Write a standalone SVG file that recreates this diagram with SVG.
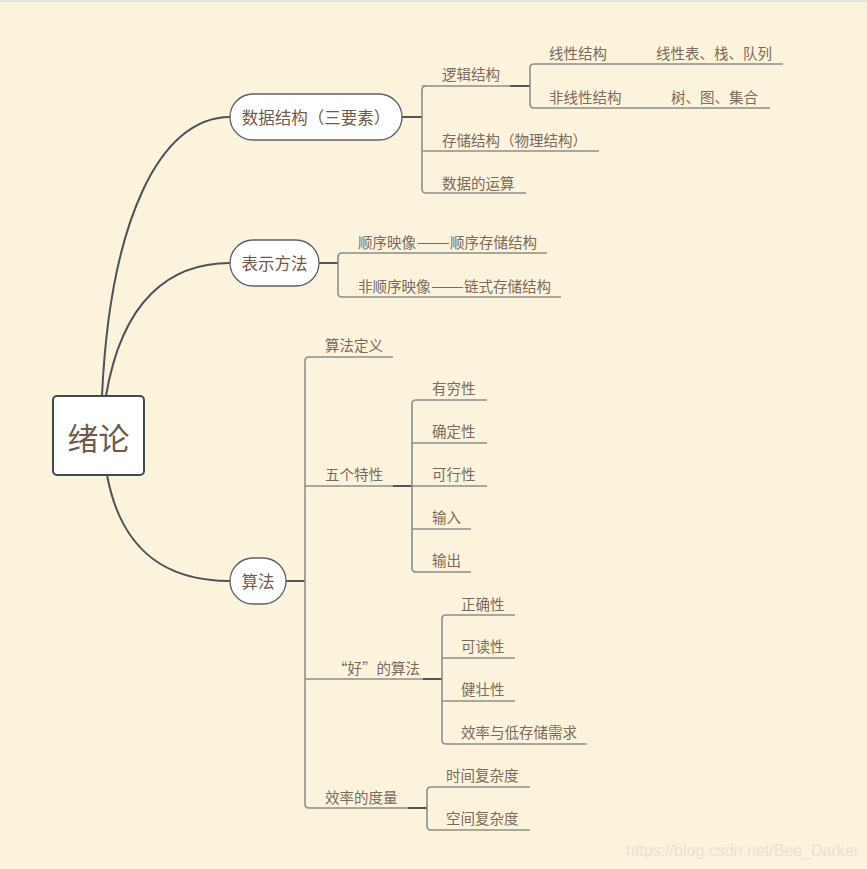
<svg xmlns="http://www.w3.org/2000/svg" width="867" height="869" viewBox="0 0 867 869">
<style>
.bg{fill:#fbf3dc}
.curve{fill:none;stroke:#4b5359;stroke-width:2}
.ln{fill:none;stroke:#8c8e87;stroke-width:1.6}
.stub{fill:none;stroke:#4f575d;stroke-width:2}
.node{fill:#ffffff;stroke:#59626a;stroke-width:1.3}
.root{fill:#ffffff;stroke:#3f4a52;stroke-width:2}
.nt{font-family:"Noto Sans CJK SC","Noto Sans",sans-serif;font-size:16.5px;fill:#6f5b4b;text-anchor:middle;dominant-baseline:central}
.rt{font-family:"Noto Sans CJK SC","Noto Sans",sans-serif;font-size:31px;fill:#6f5b4b;text-anchor:middle;dominant-baseline:central}
.t{font-family:"Noto Sans CJK SC","Noto Sans",sans-serif;font-size:14.5px;fill:#7a6a5b;dominant-baseline:central}
.wm{font-family:"Liberation Sans",Arial,sans-serif;font-size:16px;fill:#e9e1d2}
</style>
<rect class="bg" x="0" y="0" width="867" height="869"/>
<rect x="0" y="0" width="867" height="2" fill="#e4e2dc"/>
<g id="connectors">
<path class="curve" d="M102,396 C110,220 160,117 230,117"/>
<path class="curve" d="M106,396 C122,300 170,263 230,263"/>
<path class="curve" d="M107,475 C122,555 170,581 230,581"/>
<path class="stub" d="M402,117 H422"/>
<path class="ln" d="M426,86 Q422,86 422,90 V189 Q422,193 426,193"/>
<path class="ln" d="M422,86 H510"/>
<path class="stub" d="M510,86 H530"/>
<path class="ln" d="M422,151 H599"/>
<path class="ln" d="M426,193 H526"/>
<path class="ln" d="M534,64 Q530,64 530,68 V104 Q530,108 534,108"/>
<path class="ln" d="M534,64 H783"/>
<path class="ln" d="M534,108 H770"/>
<path class="stub" d="M319,263 H338"/>
<path class="ln" d="M342,253 Q338,253 338,257 V293 Q338,297 342,297"/>
<path class="ln" d="M342,253 H547"/>
<path class="ln" d="M342,297 H561"/>
<path class="stub" d="M286,581 H305"/>
<path class="ln" d="M309,357 Q305,357 305,361 V804 Q305,808 309,808"/>
<path class="ln" d="M309,357 H393"/>
<path class="ln" d="M305,486 H393"/>
<path class="stub" d="M393,486 H412"/>
<path class="ln" d="M416,400 Q412,400 412,404 V568 Q412,572 416,572"/>
<path class="ln" d="M416,400 H487"/>
<path class="ln" d="M412,443 H487"/>
<path class="ln" d="M412,486 H487"/>
<path class="ln" d="M412,529 H471"/>
<path class="ln" d="M416,572 H471"/>
<path class="ln" d="M305,679 H423"/>
<path class="stub" d="M423,679 H442"/>
<path class="ln" d="M446,615 Q442,615 442,619 V740 Q442,744 446,744"/>
<path class="ln" d="M446,615 H515"/>
<path class="ln" d="M442,658 H515"/>
<path class="ln" d="M442,701 H515"/>
<path class="ln" d="M446,744 H587"/>
<path class="ln" d="M309,808 H408"/>
<path class="stub" d="M408,808 H427"/>
<path class="ln" d="M431,787 Q427,787 427,791 V826 Q427,830 431,830"/>
<path class="ln" d="M431,787 H530"/>
<path class="ln" d="M431,830 H530"/>
</g>
<g id="root">
<rect class="root" x="53" y="396" width="91" height="79" rx="4"/>
<text class="rt" x="98.5" y="436">绪论</text>
</g>
<g id="n-datastruct">
<rect class="node" x="230" y="94" width="172" height="46" rx="23"/>
<text class="nt" x="316" y="117">数据结构（三要素）</text>
</g>
<g id="n-repr">
<rect class="node" x="230" y="240" width="89" height="46" rx="23"/>
<text class="nt" x="274.5" y="263">表示方法</text>
</g>
<g id="n-algo">
<rect class="node" x="230" y="558" width="56" height="46" rx="23"/>
<text class="nt" x="258" y="581">算法</text>
</g>
<g id="c-logic"><text class="t" x="442" y="73">逻辑结构</text></g>
<g id="c-linear"><text class="t" x="549" y="52">线性结构</text></g>
<g id="c-linear-ex"><text class="t" x="656" y="52">线性表、栈、队列</text></g>
<g id="c-nonlinear"><text class="t" x="549" y="96">非线性结构</text></g>
<g id="c-nonlinear-ex"><text class="t" x="671" y="96">树、图、集合</text></g>
<g id="c-storage"><text class="t" x="442" y="139">存储结构（物理结构）</text></g>
<g id="c-ops"><text class="t" x="442" y="182">数据的运算</text></g>
<g id="c-seq"><text class="t" x="358" y="241">顺序映像<tspan x="417" textLength="33" lengthAdjust="spacingAndGlyphs">——</tspan><tspan x="450">顺序存储结构</tspan></text></g>
<g id="c-nonseq"><text class="t" x="358" y="285">非顺序映像<tspan x="431" textLength="33" lengthAdjust="spacingAndGlyphs">——</tspan><tspan x="464">链式存储结构</tspan></text></g>
<g id="c-def"><text class="t" x="325" y="344">算法定义</text></g>
<g id="c-five"><text class="t" x="325" y="473">五个特性</text></g>
<g id="c-finite"><text class="t" x="432" y="387">有穷性</text></g>
<g id="c-definite"><text class="t" x="432" y="430">确定性</text></g>
<g id="c-feasible"><text class="t" x="432" y="473">可行性</text></g>
<g id="c-input"><text class="t" x="432" y="516">输入</text></g>
<g id="c-output"><text class="t" x="432" y="559">输出</text></g>
<g id="c-good"><text class="t" x="333" y="667">“好”的算法</text></g>
<g id="c-correct"><text class="t" x="461" y="603">正确性</text></g>
<g id="c-readable"><text class="t" x="461" y="645">可读性</text></g>
<g id="c-robust"><text class="t" x="461" y="688">健壮性</text></g>
<g id="c-eff"><text class="t" x="461" y="731">效率与低存储需求</text></g>
<g id="c-measure"><text class="t" x="325" y="796">效率的度量</text></g>
<g id="c-time"><text class="t" x="446" y="774">时间复杂度</text></g>
<g id="c-space"><text class="t" x="446" y="817">空间复杂度</text></g>
<text class="wm" x="626" y="856">https://blog.csdn.net/Bee_Darker</text>
</svg>
